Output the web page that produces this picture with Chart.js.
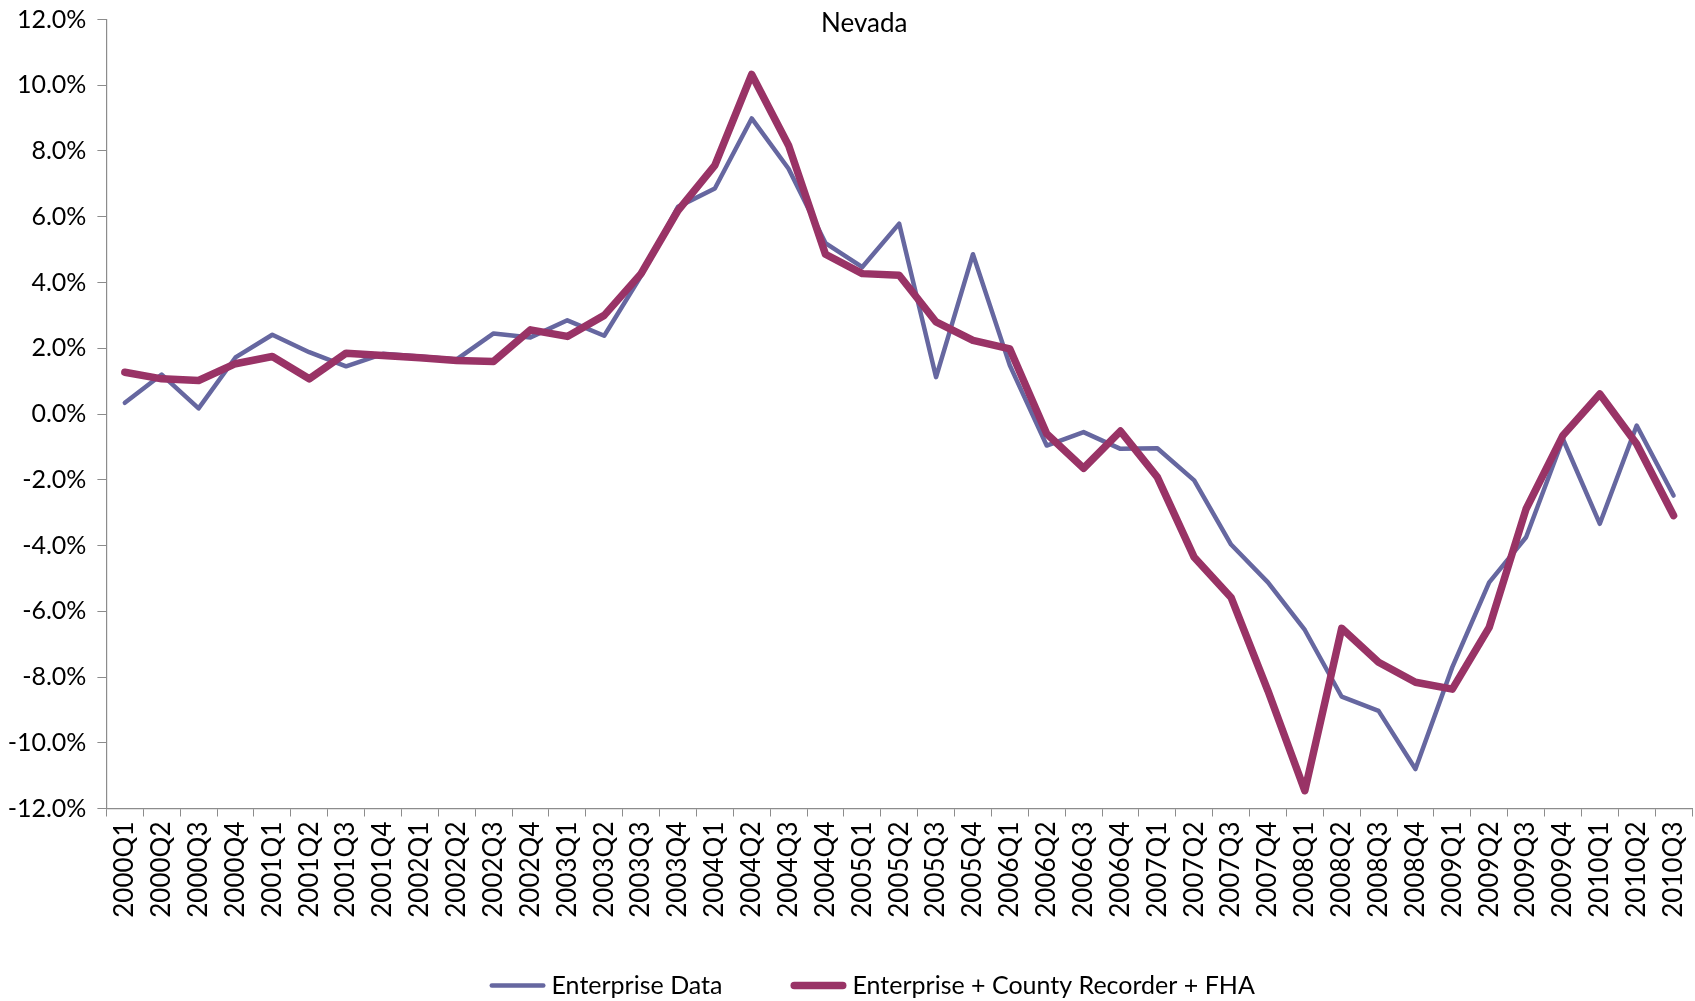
<!DOCTYPE html>
<html>
<head>
<meta charset="utf-8">
<script src="https://cdn.jsdelivr.net/npm/chart.js@4"></script>
<style>
  html, body { margin: 0; padding: 0; background: #fff; }
  #wrap { width: 1695px; height: 1001px; }
</style>
</head>
<body>
<div id="wrap"><canvas id="nevadaChart"></canvas></div>
<script>
// quarters on the x axis
const quarters = [
  '2000Q1','2000Q2','2000Q3','2000Q4',
  '2001Q1','2001Q2','2001Q3','2001Q4',
  '2002Q1','2002Q2','2002Q3','2002Q4',
  '2003Q1','2003Q2','2003Q3','2003Q4',
  '2004Q1','2004Q2','2004Q3','2004Q4',
  '2005Q1','2005Q2','2005Q3','2005Q4',
  '2006Q1','2006Q2','2006Q3','2006Q4',
  '2007Q1','2007Q2','2007Q3','2007Q4',
  '2008Q1','2008Q2','2008Q3','2008Q4',
  '2009Q1','2009Q2','2009Q3','2009Q4',
  '2010Q1','2010Q2','2010Q3'
];

// percent change
const enterpriseData = [
  0.34, 1.20, 0.17, 1.72,
  2.41, 1.88, 1.45, 1.83,
  1.75, 1.66, 2.45, 2.33,
  2.85, 2.38, 4.20, 6.30,
  6.86, 8.99, 7.46, 5.20,
  4.47, 5.79, 1.12, 4.86,
  1.48, -0.96, -0.55, -1.06,
  -1.04, -2.02, -3.97, -5.12,
  -6.57, -8.60, -9.03, -10.80,
  -7.70, -5.12, -3.75, -0.76,
  -3.34, -0.35, -2.48
];

const enterpriseCountyFha = [
  1.27, 1.07, 1.02, 1.53,
  1.75, 1.07, 1.85, 1.78,
  1.71, 1.63, 1.60, 2.56,
  2.36, 3.00, 4.27, 6.19,
  7.56, 10.33, 8.17, 4.86,
  4.27, 4.22, 2.80, 2.24,
  1.98, -0.60, -1.65, -0.52,
  -1.92, -4.36, -5.58, -8.42,
  -11.46, -6.52, -7.55, -8.16,
  -8.37, -6.49, -2.89, -0.65,
  0.61, -0.91, -3.09
];

const yTicks = [-12, -10, -8, -6, -4, -2, 0, 2, 4, 6, 8, 10, 12];

const FONT = 'Lato, "Open Sans", sans-serif';
const AXIS_GREY = '#8c8c8c';

// title sits inside the plot, like the original
const overlayTitle = {
  id: 'overlayTitle',
  afterDraw(chart) {
    const ctx = chart.ctx;
    const ca = chart.chartArea;
    ctx.save();
    ctx.font = '26px ' + FONT;
    ctx.fillStyle = '#000';
    ctx.textAlign = 'center';
    ctx.textBaseline = 'middle';
    ctx.fillText('Nevada', (ca.left + ca.right) / 2 - 35, ca.top + 4);
    ctx.restore();
  }
};

// excel style legend: short thick line, then the label
const bottomLegend = {
  id: 'bottomLegend',
  afterDraw(chart) {
    const ctx = chart.ctx;
    const sets = chart.data.datasets;
    const lineLen = 56, textGap = 6, itemGap = 68;
    ctx.save();
    ctx.font = '25px ' + FONT;
    const widths = sets.map(ds => lineLen + textGap + ctx.measureText(ds.label).width);
    const total = widths.reduce((a, b) => a + b, 0) + itemGap * (sets.length - 1);
    const ca = chart.chartArea;
    let x = (ca.left + ca.right) / 2 - 27 - total / 2;
    const y = chart.height - 15.5;
    sets.forEach((ds, i) => {
      ctx.strokeStyle = ds.borderColor;
      ctx.lineWidth = ds.borderWidth;
      ctx.lineCap = 'round';
      ctx.beginPath();
      ctx.moveTo(x + ds.borderWidth / 2, y);
      ctx.lineTo(x + lineLen - ds.borderWidth / 2, y);
      ctx.stroke();
      ctx.fillStyle = '#000';
      ctx.textAlign = 'left';
      ctx.textBaseline = 'middle';
      ctx.fillText(ds.label, x + lineLen + textGap, y);
      x += widths[i] + itemGap;
    });
    ctx.restore();
  }
};

new Chart(document.getElementById('nevadaChart'), {
  type: 'line',
  data: {
    labels: quarters,
    datasets: [{
      label: 'Enterprise Data',
      data: enterpriseData,
      borderColor: '#6667a0',
      backgroundColor: '#6667a0',
      borderWidth: 4.5,
      borderJoinStyle: 'round',
      borderCapStyle: 'round',
      pointRadius: 0,
      tension: 0,
      order: 2
    }, {
      label: 'Enterprise + County Recorder + FHA',
      data: enterpriseCountyFha,
      borderColor: '#993366',
      backgroundColor: '#993366',
      borderWidth: 7.5,
      borderJoinStyle: 'round',
      borderCapStyle: 'round',
      pointRadius: 0,
      tension: 0,
      order: 1
    }]
  },
  options: {
    responsive: true,
    maintainAspectRatio: false,
    animation: false,
    layout: { padding: { top: 19.5, right: 3, left: 0, bottom: 48 } },
    plugins: {
      title: { display: false },
      tooltip: { enabled: false },
      legend: { display: false }
    },
    scales: {
      x: {
        offset: true,
        grid: {
          offset: true,
          drawOnChartArea: false,
          tickLength: 8,
          color: AXIS_GREY
        },
        border: { color: AXIS_GREY, width: 1.2 },
        ticks: {
          autoSkip: false,
          maxRotation: 90,
          minRotation: 90,
          padding: 5,
          color: '#000',
          font: { family: FONT, size: 26 }
        },
        afterFit(scale) {
          scale.height = 144.5;
          scale.paddingLeft = 0;
          scale.paddingRight = 0;
        }
      },
      y: {
        min: yTicks[0],
        max: yTicks[yTicks.length - 1],
        afterBuildTicks(scale) { scale.ticks = yTicks.map(v => ({ value: v })); },
        grid: {
          drawOnChartArea: false,
          tickLength: 9,
          color: AXIS_GREY
        },
        border: { color: AXIS_GREY, width: 1.2 },
        ticks: {
          padding: 11,
          color: '#000',
          font: { family: FONT, size: 25 },
          callback: v => v.toFixed(1) + '%'
        },
        afterFit(scale) {
          scale.width = 106.4;
          scale.paddingTop = 0;
          scale.paddingBottom = 0;
        }
      }
    }
  },
  plugins: [overlayTitle, bottomLegend]
});
</script>
</body>
</html>
